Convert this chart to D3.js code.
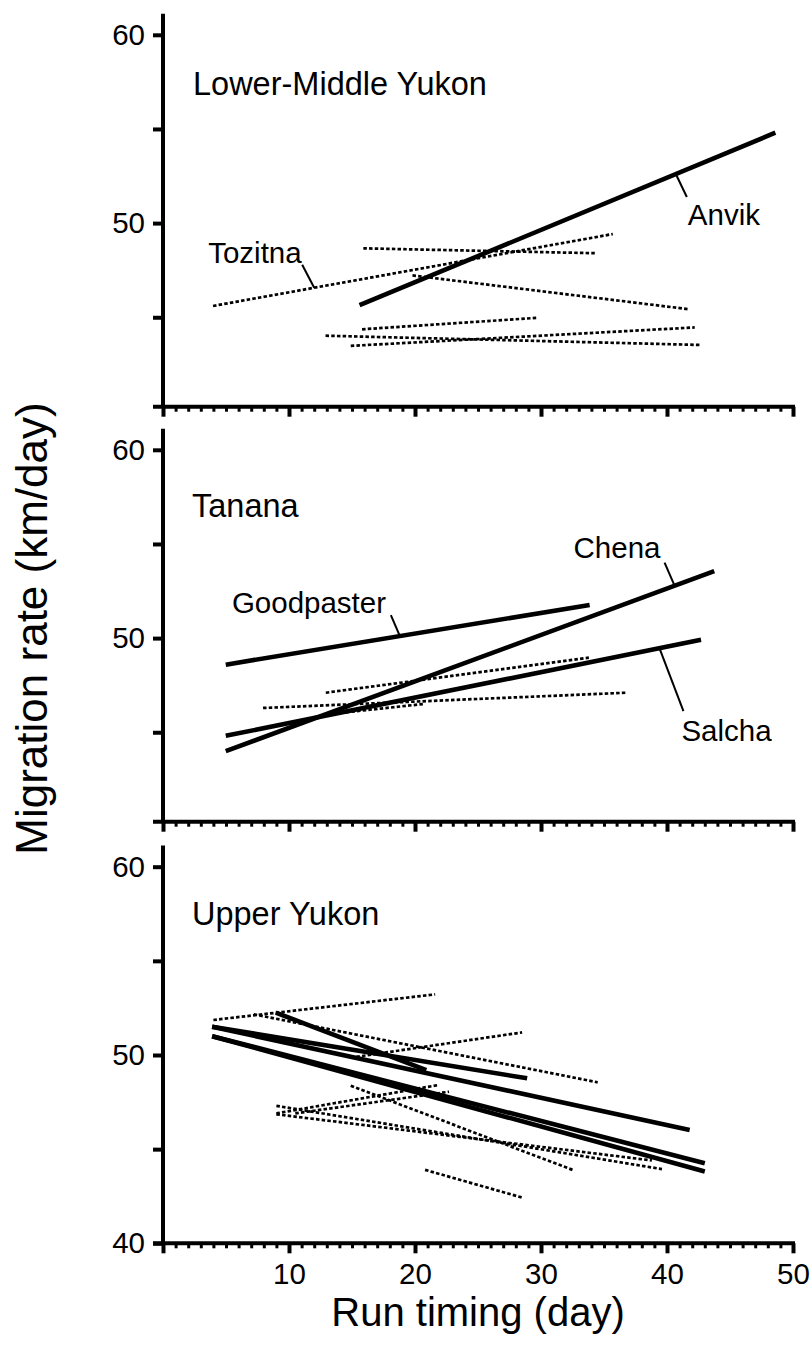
<!DOCTYPE html>
<html>
<head>
<meta charset="utf-8">
<script src="https://cdn.jsdelivr.net/npm/d3@7"></script>
<style>
  body { margin: 0; background: #fff; }
  svg { display: block; }
  text { font-family: "Liberation Sans", Arial, Helvetica, sans-serif; fill: #000; }
</style>
</head>
<body>
<svg id="chart" width="811" height="1346"></svg>
<script>
// Panel titles (one panel per drainage)
const panelNames = ["Lower-Middle Yukon", "Tanana", "Upper Yukon"];

// Axis ticks
const xMajorTicks = [0, 10, 20, 30, 40, 50];
const xTickLabels = [10, 20, 30, 40, 50];
const yMajorTicks = [[45, 50, 55, 60], [45, 50, 55, 60], [40, 45, 50, 55, 60]];
const yTickLabels = [[50, 60], [50, 60], [40, 50, 60]];

// Fitted run-timing lines: [first day, rate at first day, last day, rate at last day]
const lowerMiddleSolid = [
  [15.6, 45.64, 48.6, 54.8]          // Anvik
];
const lowerMiddleDashed = [
  [3.97, 45.6, 35.7, 49.42],         // Tozitna
  [15.9, 48.66, 34.4, 48.4],
  [19.8, 47.22, 41.7, 45.43],
  [15.8, 44.36, 29.7, 44.97],
  [12.9, 44.02, 42.6, 43.53],
  [14.9, 43.48, 42.2, 44.46]
];
const tananaSolid = [
  [4.98, 48.59, 33.86, 51.76],       // Goodpaster
  [4.98, 44.0, 43.75, 53.56],        // Chena
  [4.98, 44.81, 42.7, 49.91]         // Salcha
];
const tananaDashed = [
  [12.92, 47.1, 33.8, 48.96],
  [7.94, 46.29, 36.8, 47.1],
  [12.7, 45.93, 20.8, 46.51]
];
const upperSolid = [
  [8.95, 52.25, 20.9, 49.2],
  [3.9, 51.5, 28.9, 48.76],
  [3.9, 51.5, 41.8, 46.02],
  [3.9, 51.0, 43.0, 44.25],
  [3.9, 51.0, 43.0, 43.81]
];
const upperDashed = [
  [4.0, 51.86, 21.6, 53.22],
  [7.2, 52.16, 34.5, 48.55],
  [14.9, 49.86, 28.5, 51.2],
  [14.9, 48.37, 32.5, 43.9],
  [9.0, 46.9, 21.8, 48.4],
  [10.5, 46.9, 22.7, 48.05],
  [9.0, 47.3, 39.6, 43.94],
  [9.0, 46.85, 38.8, 44.4],
  [20.8, 43.9, 28.5, 42.43]
];
const solidSets = [lowerMiddleSolid, tananaSolid, upperSolid];
const dashedSets = [lowerMiddleDashed, tananaDashed, upperDashed];

// Named streams: panel, line style, line index, day where the leader touches the line
const streamNames = ["Anvik", "Tozitna", "Goodpaster", "Chena", "Salcha"];
const streamPanel = [0, 0, 1, 1, 1];
const streamStyle = ["solid", "dashed", "solid", "solid", "solid"];
const streamIndex = [0, 0, 0, 1, 2];
const streamDay = [40.7, 12.0, 18.8, 40.6, 39.4];

// Layout
const xLeft = 163, xRight = 793;
const axisYs = [406.7, 821.7, 1243.3];
const yBottoms = [40.25, 40.25, 40];
const yTop = 61.12;
const pxPerUnit = 18.83;
// leader vector and text offset relative to the point on the line
const leaderVec = [[11, 23], [-12, -23], [-9, -21], [-10, -23], [24, 63]];
const textOff = [[12, 51], [-106, -25], [-168, -23.5], [-101, -27.5], [22, 93]];
const titlePos = [[193, 95], [192, 516.7], [192, 925]];

const svg = d3.select("#chart");
const x = d3.scaleLinear().domain([0, 50]).range([xLeft, xRight]);
const xMinor = d3.range(1, 50).filter(d => d % 10 !== 0);

const yScales = axisYs.map((ay, i) =>
  d3.scaleLinear().domain([yBottoms[i], yTop])
    .range([ay, ay - (yTop - yBottoms[i]) * pxPerUnit]));

const segPath = (y) => (s) => d3.line()([[x(s[0]), y(s[1])], [x(s[2]), y(s[3])]]);

panelNames.forEach((name, i) => {
  const y = yScales[i];
  const g = svg.append("g");

  // fitted lines
  g.selectAll("path.dash").data(dashedSets[i]).join("path")
    .attr("class", "dash")
    .attr("d", segPath(y))
    .attr("fill", "none").attr("stroke", "#000")
    .attr("stroke-width", 2.7).attr("stroke-dasharray", "3.5,2.2");
  g.selectAll("path.solid").data(solidSets[i]).join("path")
    .attr("class", "solid")
    .attr("d", segPath(y))
    .attr("fill", "none").attr("stroke", "#000")
    .attr("stroke-width", 4.6).attr("stroke-linecap", "butt");

  // y axis
  const yAx = g.append("g").attr("transform", `translate(${xLeft},0)`)
    .call(d3.axisLeft(y).tickValues(yMajorTicks[i]).tickSize(10).tickPadding(8)
      .tickFormat(d => yTickLabels[i].includes(d) ? d : ""));
  yAx.select(".domain").remove();
  yAx.selectAll("line").attr("stroke", "#000").attr("stroke-width", 4);
  yAx.selectAll("text").attr("font-size", 29.5).attr("fill", "#000")
    .style("font-family", '"Liberation Sans", Arial, sans-serif');
  g.append("line")
    .attr("x1", xLeft).attr("x2", xLeft)
    .attr("y1", y(yTop)).attr("y2", axisYs[i])
    .attr("stroke", "#000").attr("stroke-width", 4);

  // x axis
  const xg = g.append("g").attr("transform", `translate(0,${axisYs[i]})`);
  const xMaj = xg.append("g")
    .call(d3.axisBottom(x).tickValues(xMajorTicks).tickSize(10).tickPadding(10)
      .tickFormat(d => (i === 2 && xTickLabels.includes(d)) ? d : ""));
  xMaj.select(".domain").remove();
  xMaj.selectAll("line").attr("stroke", "#000").attr("stroke-width", 4);
  xMaj.selectAll("text").attr("font-size", 29.5).attr("fill", "#000")
    .style("font-family", '"Liberation Sans", Arial, sans-serif');
  const xMin = xg.append("g")
    .call(d3.axisBottom(x).tickValues(xMinor).tickSize(5).tickFormat(""));
  xMin.select(".domain").remove();
  xMin.selectAll("line").attr("stroke", "#000").attr("stroke-width", 3);
  xg.append("line")
    .attr("x1", xLeft - 10).attr("x2", x(50) + 2)
    .attr("y1", 0).attr("y2", 0)
    .attr("stroke", "#000").attr("stroke-width", 4);

  // panel title
  g.append("text").attr("x", titlePos[i][0]).attr("y", titlePos[i][1])
    .attr("font-size", 32.5).text(name);
});

// stream labels with leader lines
streamNames.forEach((name, k) => {
  const p = streamPanel[k];
  const y = yScales[p];
  const seg = (streamStyle[k] === "solid" ? solidSets[p] : dashedSets[p])[streamIndex[k]];
  const d = streamDay[k];
  const rate = seg[1] + (d - seg[0]) / (seg[2] - seg[0]) * (seg[3] - seg[1]);
  const px = x(d), py = y(rate);
  svg.append("line")
    .attr("x1", px).attr("y1", py)
    .attr("x2", px + leaderVec[k][0]).attr("y2", py + leaderVec[k][1])
    .attr("stroke", "#000").attr("stroke-width", 2);
  svg.append("text")
    .attr("x", px + textOff[k][0]).attr("y", py + textOff[k][1])
    .attr("font-size", 29.5).text(name);
});

// axis titles
svg.append("text")
  .attr("transform", `translate(47,${(axisYs[0] - (yTop - yBottoms[0]) * pxPerUnit + axisYs[2]) / 2}) rotate(-90)`)
  .attr("text-anchor", "middle").attr("font-size", 44)
  .text("Migration rate (km/day)");
svg.append("text")
  .attr("x", (xLeft + xRight) / 2).attr("y", 1326)
  .attr("text-anchor", "middle").attr("font-size", 40)
  .text("Run timing (day)");
</script>
</body>
</html>
